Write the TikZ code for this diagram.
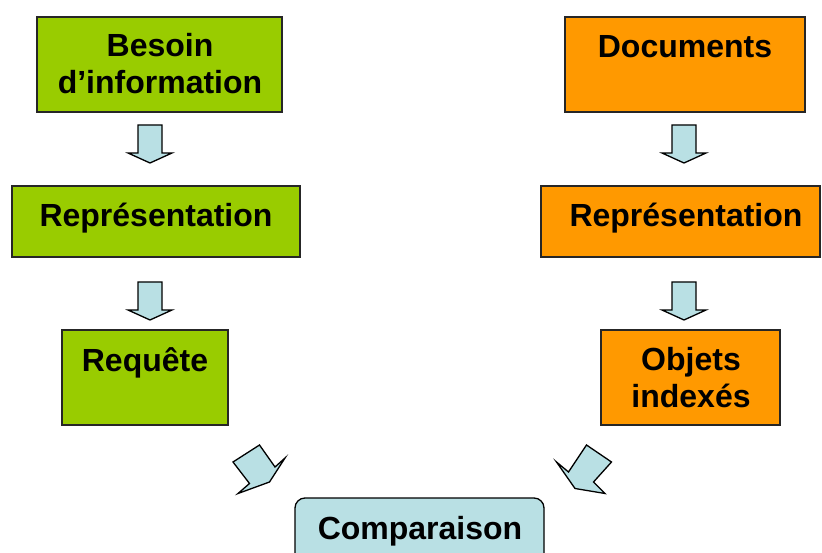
\documentclass[tikz,border=0pt]{standalone}
\usepackage{fontspec}
\setmainfont{Liberation Sans}
\definecolor{boxgreen}{HTML}{99CC00}
\definecolor{boxorange}{HTML}{FF9900}
\definecolor{arrowblue}{HTML}{B9E0E4}
\begin{document}
\begin{tikzpicture}[x=1pt,y=-1pt,
  box/.style={draw=black!85, line width=1.3pt, inner sep=0pt},
  greenbox/.style={box, fill=boxgreen},
  orangebox/.style={box, fill=boxorange},
  lbl/.style={font=\fontsize{32}{37}\selectfont\bfseries, align=center, inner sep=0pt, anchor=base},
  blockarrow/.style={draw=black, line width=1.3pt, fill=arrowblue, line join=miter},
  downarrow/.pic={\draw[blockarrow] (-12,0) -- (12,0) -- (12,28) -- (22,28) -- (0,38) -- (-22,28) -- (-12,28) -- cycle;}]
\clip (0,0) rectangle (822,553);
\fill[white] (0,0) rectangle (822,553);

% query side (green); two-line labels are placed by their last baseline
\node[greenbox, minimum width=245pt, minimum height=95pt] (need) at (159.5,64.5) {};
\node[lbl] (needtxt) at (160,94) {Besoin\\d’information};
\node[greenbox, minimum width=288pt, minimum height=71pt] (reprq) at (156,221.5) {};
\node[lbl] (reprqtxt) at (156,227) {Représentation};
\node[greenbox, minimum width=166pt, minimum height=95pt] (query) at (145,377.5) {};
\node[lbl] (querytxt) at (145,371) {Requête};

% document side (orange)
\node[orangebox, minimum width=240pt, minimum height=95pt] (docs) at (685,64.5) {};
\node[lbl] (docstxt) at (685,58) {Documents};
\node[orangebox, minimum width=279pt, minimum height=71pt] (reprd) at (680.5,221.5) {};
\node[lbl] (reprdtxt) at (686,227) {Représentation};
\node[orangebox, minimum width=179pt, minimum height=95pt] (objs) at (690.5,377.5) {};
\node[lbl] (objstxt) at (691,407) {Objets\\indexés};

% matching
\node[draw=black, line width=1.3pt, fill=arrowblue, rounded corners=10pt,
      minimum width=249pt, minimum height=80pt, inner sep=0pt] (comp) at (419.5,538) {};
\node[lbl] (comptxt) at (420,539) {Comparaison};

% vertical block arrows
\pic at (150,125) {downarrow};
\pic at (150,282) {downarrow};
\pic at (684,125) {downarrow};
\pic at (684,282) {downarrow};

% slanted block arrows towards the comparison
\draw[blockarrow] (233,462) -- (259.5,445) -- (275,467) -- (285,458) -- (269.5,482) -- (238,493.5) -- (249.5,483.5) -- cycle;
\draw[blockarrow] (586.5,445) -- (611.5,462) -- (593.5,482) -- (605,493.5) -- (575,488.5) -- (556.5,462) -- (568.5,472) -- cycle;
\end{tikzpicture}
\end{document}
